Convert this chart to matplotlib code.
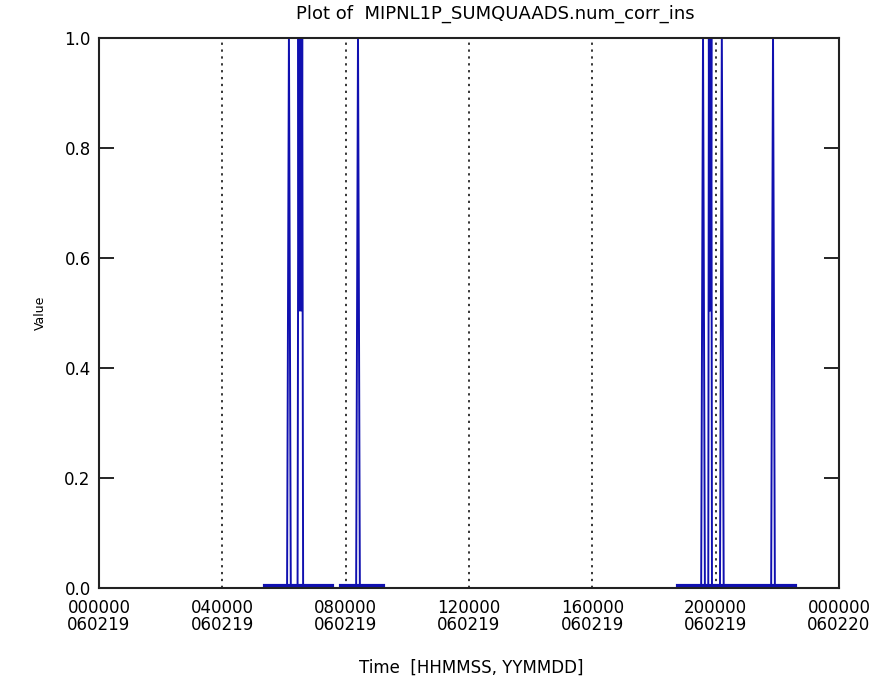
import matplotlib
matplotlib.use("Agg")
import matplotlib.pyplot as plt
from matplotlib.transforms import ScaledTranslation

# time in hours since 060219 000000
seg_a_time = [5.38, 6.10, 6.16, 6.22, 6.44, 6.47, 6.49, 6.51, 6.53, 6.55, 6.57, 6.59, 6.62, 7.56]
seg_a_value = [0, 0, 1, 0, 0, 1, 0.5, 1, 0.5, 1, 0.5, 1, 0, 0]

seg_b_time = [7.85, 8.34, 8.40, 8.46, 9.21]
seg_b_value = [0, 0, 1, 0, 0]

seg_c_time = [18.78, 19.53, 19.59, 19.65, 19.76, 19.78, 19.80, 19.82, 19.84, 19.86, 19.88,
              20.14, 20.20, 20.26, 21.80, 21.86, 21.92, 22.57]
seg_c_value = [0, 0, 1, 0, 0, 1, 0.5, 1, 0.5, 1, 0, 0, 1, 0, 0, 1, 0, 0]

grid_hours = [4, 8, 12, 16, 20]
xtick_hours = [0, 4, 8, 12, 16, 20, 24]
xtick_labels = ["000000\n060219", "040000\n060219", "080000\n060219", "120000\n060219",
                "160000\n060219", "200000\n060219", "000000\n060220"]
ytick_values = [0.0, 0.2, 0.4, 0.6, 0.8, 1.0]

fig = plt.figure(figsize=(8.89, 6.85), dpi=100)
ax = fig.add_axes([99 / 889, 1 - 588 / 685, 740 / 889, 550 / 685])

for h in grid_hours:
    ax.axvline(h, color="black", linestyle=(0, (1.5, 3)), linewidth=1.1, zorder=1)

# lift the trace a couple of pixels so the zero line sits just above the axis
lift = ax.transData + ScaledTranslation(0, 2.5 / 100, fig.dpi_scale_trans)
for t, v in [(seg_a_time, seg_a_value), (seg_b_time, seg_b_value), (seg_c_time, seg_c_value)]:
    ax.plot(t, v, color="#1010b0", linewidth=1.4, transform=lift, zorder=2)
    ax.plot([t[0], t[-1]], [v[0], v[-1]], color="#1010b0", linewidth=3, transform=lift, zorder=2)

ax.set_xlim(0, 24)
ax.set_ylim(0, 1)
ax.set_xticks(xtick_hours)
ax.set_xticklabels(xtick_labels, fontsize=12, linespacing=0.95)
ax.set_yticks(ytick_values)
ax.set_yticklabels([f"{v:.1f}" for v in ytick_values], fontsize=12)
ax.tick_params(axis="x", length=0, pad=8)
ax.tick_params(axis="y", direction="in", length=11, width=1.2, right=True, pad=6)

for s in ax.spines.values():
    s.set_linewidth(1.5)
    s.set_color("#222222")
    s.set_zorder(3)

fig.text(495 / 889, 1 - 14 / 685, "Plot of  MIPNL1P_SUMQUAADS.num_corr_ins",
         ha="center", va="center", fontsize=13)
fig.text(471 / 889, 1 - 668 / 685, "Time  [HHMMSS, YYMMDD]",
         ha="center", va="center", fontsize=12)
fig.text(40 / 889, 1 - 313 / 685, "Value", rotation=90,
         ha="center", va="center", fontsize=9)

fig.savefig("out.png", dpi=100)
